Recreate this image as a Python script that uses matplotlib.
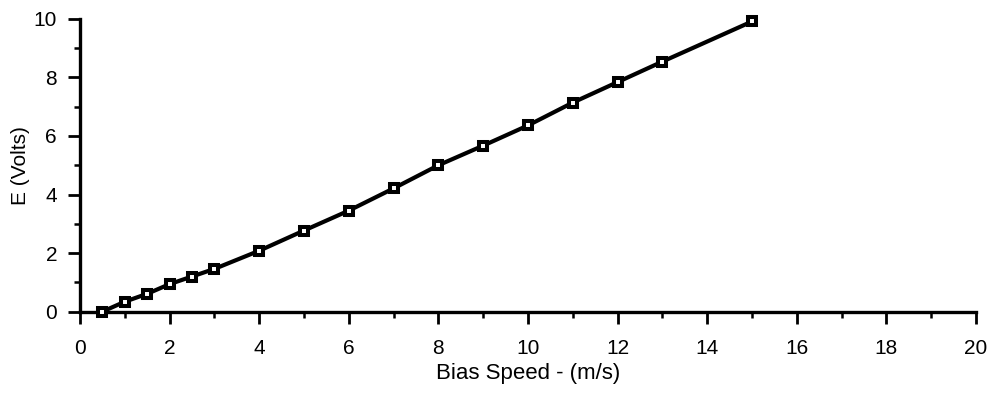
import matplotlib
matplotlib.use("Agg")
import matplotlib.pyplot as plt
from matplotlib.ticker import MultipleLocator

# dados
velocidade = [0.5, 1, 1.5, 2, 2.5, 3, 4, 5, 6, 7, 8, 9, 10, 11, 12, 13, 15]
tensao = [0.0, 0.34, 0.61, 0.94, 1.20, 1.46, 2.08, 2.77, 3.45, 4.21, 5.0, 5.67, 6.36, 7.14, 7.84, 8.54, 9.91]

plt.rcParams['font.family'] = ['Liberation Sans', 'DejaVu Sans']

fig = plt.figure(figsize=(9.9, 3.93), dpi=100)
ax = fig.add_axes([0.0808, 0.207, 0.905, 0.745])

ax.plot(velocidade, tensao, '-', color='black', linewidth=3,
        marker='s', markersize=5.7, markerfacecolor='white',
        markeredgecolor='black', markeredgewidth=2.9, clip_on=False, zorder=3)

ax.set_xlim(0, 20)
ax.set_ylim(0, 10)
ax.xaxis.set_major_locator(MultipleLocator(2))
ax.xaxis.set_minor_locator(MultipleLocator(1))
ax.yaxis.set_major_locator(MultipleLocator(2))
ax.yaxis.set_minor_locator(MultipleLocator(1))

for lado in ['top', 'right']:
    ax.spines[lado].set_visible(False)
for lado in ['left', 'bottom']:
    ax.spines[lado].set_linewidth(2.4)

ax.tick_params(which='major', length=8.5, width=2, labelsize=15)
ax.tick_params(which='minor', length=4, width=1.8)
ax.tick_params(axis='x', pad=11)
ax.tick_params(axis='y', pad=8)

ax.set_xlabel("Bias Speed - (m/s)", fontsize=16, labelpad=4)
ax.set_ylabel("E (Volts)", fontsize=15, labelpad=3)

plt.savefig("out.png", dpi=100)
